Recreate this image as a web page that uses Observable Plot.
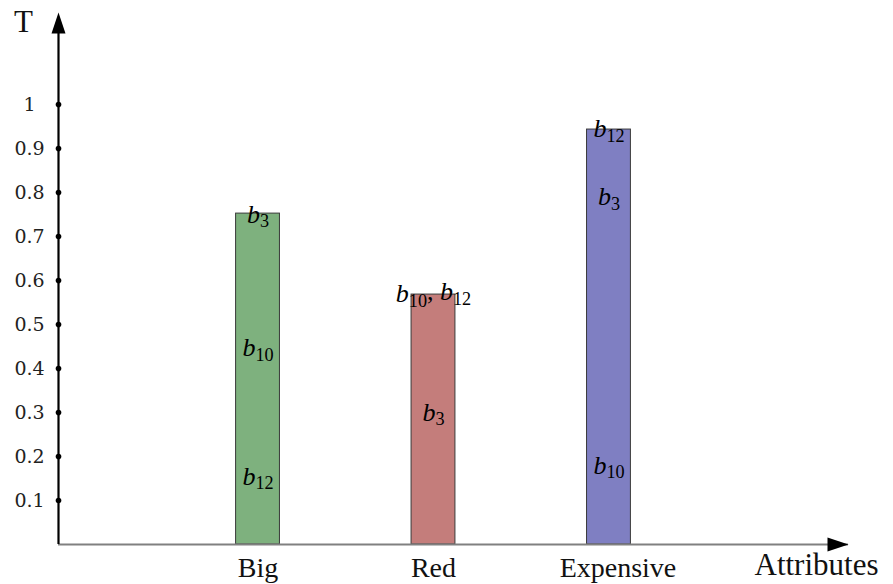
<!DOCTYPE html>
<html><head><meta charset="utf-8">
<script src="https://cdn.jsdelivr.net/npm/d3@7"></script>
<script src="https://cdn.jsdelivr.net/npm/@observablehq/plot@0.6"></script>
<style>body{margin:0;background:#fff}</style>
</head><body><div id="chart"></div>
<script>
const categories = ["Big", "Red", "Expensive"];
const values = [0.752, 0.568, 0.943];
const colors = ["#7eb17e", "#c47d7b", "#7f7fc2"];
const labelBar = ["Big", "Big", "Big", "Red", "Red", "Expensive", "Expensive", "Expensive"];
const labelText = ["b3", "b10", "b12", "b10, b12", "b3", "b12", "b3", "b10"];
const labelY = [0.75, 0.447, 0.155, 0.57, 0.30, 0.945, 0.79, 0.18];
const yTicks = [0.1, 0.2, 0.3, 0.4, 0.5, 0.6, 0.7, 0.8, 0.9, 1];
const yTickLabels = ["0.1", "0.2", "0.3", "0.4", "0.5", "0.6", "0.7", "0.8", "0.9", "1"];

const xDomain = [-0.137, 4.365];
const yDomain = [0, 1.209];
const half = 0.125;
const pos = c => categories.indexOf(c) + 1;

const bars = categories.map((c, i) => ({c, v: values[i], col: colors[i]}));
const labels = labelText.map((t, i) => ({bar: labelBar[i], t, y: labelY[i]}));

const arrowHead = {draw(ctx) { ctx.moveTo(0, 0); ctx.lineTo(-7, 21); ctx.lineTo(7, 21); ctx.closePath(); }};
const serif = "'Liberation Serif', serif";

const chart = Plot.plot({
  width: 893, height: 584,
  marginLeft: 58, marginRight: 45, marginTop: 12, marginBottom: 40,
  style: {fontFamily: serif, background: "#fff", color: "#000", overflow: "visible"},
  x: {type: "linear", domain: xDomain, axis: null},
  y: {domain: yDomain, axis: null},
  color: {type: "identity"},
  marks: [
    Plot.rectY(bars, {x1: d => pos(d.c) - half, x2: d => pos(d.c) + half, y1: 0, y2: "v", fill: "col", stroke: "#3a3a3a", strokeWidth: 1}),
    Plot.ruleY([0], {x1: xDomain[0], x2: xDomain[1], stroke: "#808080", strokeWidth: 1.8}),
    Plot.ruleX([xDomain[0]], {y1: 0, y2: yDomain[1] - 0.03, stroke: "#000", strokeWidth: 2.2}),
    Plot.dot([{x: xDomain[0], y: yDomain[1], r: 0}], {x: "x", y: "y", symbol: arrowHead, fill: "#000", stroke: null}),
    Plot.dot([{x: xDomain[1], y: 0, r: 90}], {x: "x", y: "y", rotate: "r", symbol: arrowHead, fill: "#000", stroke: null}),
    Plot.dot(yTicks, {x: xDomain[0], y: d => d, r: 2.8, fill: "#000"}),
    Plot.text(yTicks, {x: xDomain[0], y: d => d, text: (d, i) => yTickLabels[i], dx: -29, fontSize: 19, fontFamily: "'DejaVu Serif', serif", fill: "#222"}),
    Plot.text(["T"], {x: xDomain[0], y: yDomain[1], text: d => d, dx: -35, dy: 10, fontSize: 31, fill: "#111"}),
    Plot.text(categories.slice(0, 2), {x: d => pos(d), y: 0, text: d => d, dy: 24, fontSize: 28, fill: "#111"}),
    Plot.text(categories.slice(2), {x: d => pos(d), y: 0, text: d => d, dx: 9, dy: 24, fontSize: 28, fill: "#111"}),
    Plot.text(["Attributes"], {x: xDomain[1], y: 0, text: d => d, dx: -32, dy: 21, fontSize: 31, fill: "#111"}),
    Plot.text(labels, {x: d => pos(d.bar), y: "y", text: "t", fontSize: 26, fill: "#000"})
  ]
});

const groups = chart.querySelectorAll("g[aria-label='text']");
d3.select(groups[groups.length - 1]).selectAll("text").each(function() {
  const el = d3.select(this);
  const s = el.text();
  el.text("");
  s.split(", ").forEach((p, k) => {
    if (k > 0) el.append("tspan").attr("dy", "-0.25em").text(", ");
    el.append("tspan").attr("font-style", "italic").text("b");
    el.append("tspan").attr("dy", "0.25em").attr("font-size", "0.7em").text(p.slice(1));
  });
});

document.getElementById("chart").appendChild(chart);
</script>
</body></html>
